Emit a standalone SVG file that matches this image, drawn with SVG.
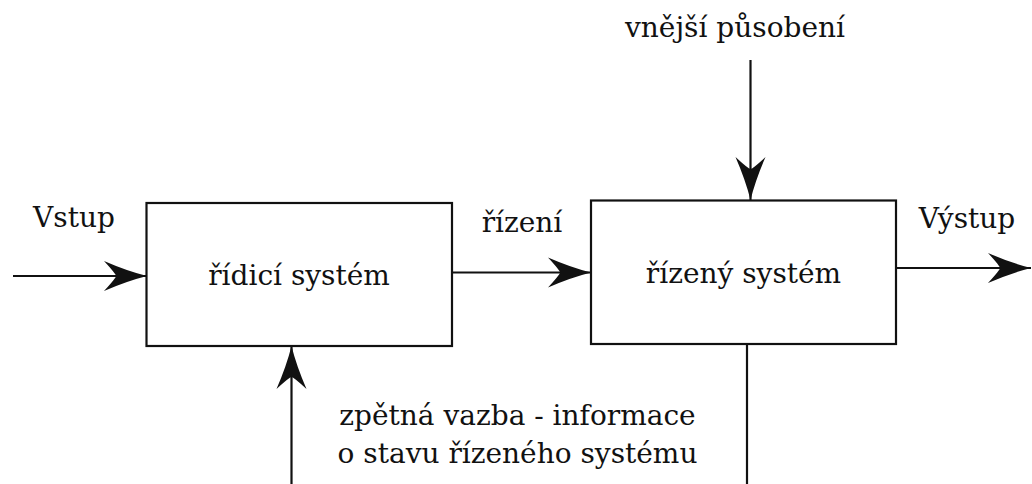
<svg xmlns="http://www.w3.org/2000/svg" width="1032" height="484" viewBox="0 0 1032 484">
<style>
.box{fill:#fff;stroke:#111;stroke-width:2.2}
.ln{fill:none;stroke:#111;stroke-width:2.2}
.ar{marker-end:url(#ah)}
text{font-family:"DejaVu Serif","Liberation Serif",serif;font-size:28px;fill:#111;text-anchor:middle}
</style>
<defs>
<marker id="ah" markerUnits="userSpaceOnUse" orient="auto" markerWidth="50" markerHeight="34" viewBox="-46 -17 50 34" refX="0" refY="0">
<path d="M0,0 Q-20,-5 -43,-15 Q-31,-2 -31,0 Q-31,2 -43,15 Q-20,5 0,0 Z" fill="#111"/>
</marker>
</defs>
<g id="connectors">
<line class="ln ar" x1="13" y1="276" x2="147" y2="276"/>
<line class="ln ar" x1="452" y1="272.5" x2="591" y2="272.5"/>
<line class="ln ar" x1="896" y1="268" x2="1031" y2="268"/>
<line class="ln ar" x1="750.5" y1="60" x2="750.5" y2="200"/>
<line class="ln" x1="747" y1="344" x2="747" y2="484"/>
<line class="ln ar" x1="291.5" y1="484" x2="291.5" y2="346"/>
</g>
<g id="node-ridici">
<rect class="box" x="146.5" y="203" width="305.5" height="143"/>
<text x="299" y="285">řídicí systém</text>
</g>
<g id="node-rizeny">
<rect class="box" x="591" y="200.5" width="305" height="143.5"/>
<text x="743.5" y="283">řízený systém</text>
</g>
<g id="labels">
<text x="74" y="227">Vstup</text>
<text x="522" y="232">řízení</text>
<text x="967" y="228">Výstup</text>
<text x="735" y="37">vnější působení</text>
<text x="517.5" y="425">zpětná vazba - informace</text>
<text x="517.5" y="463">o stavu řízeného systému</text>
</g>
</svg>
